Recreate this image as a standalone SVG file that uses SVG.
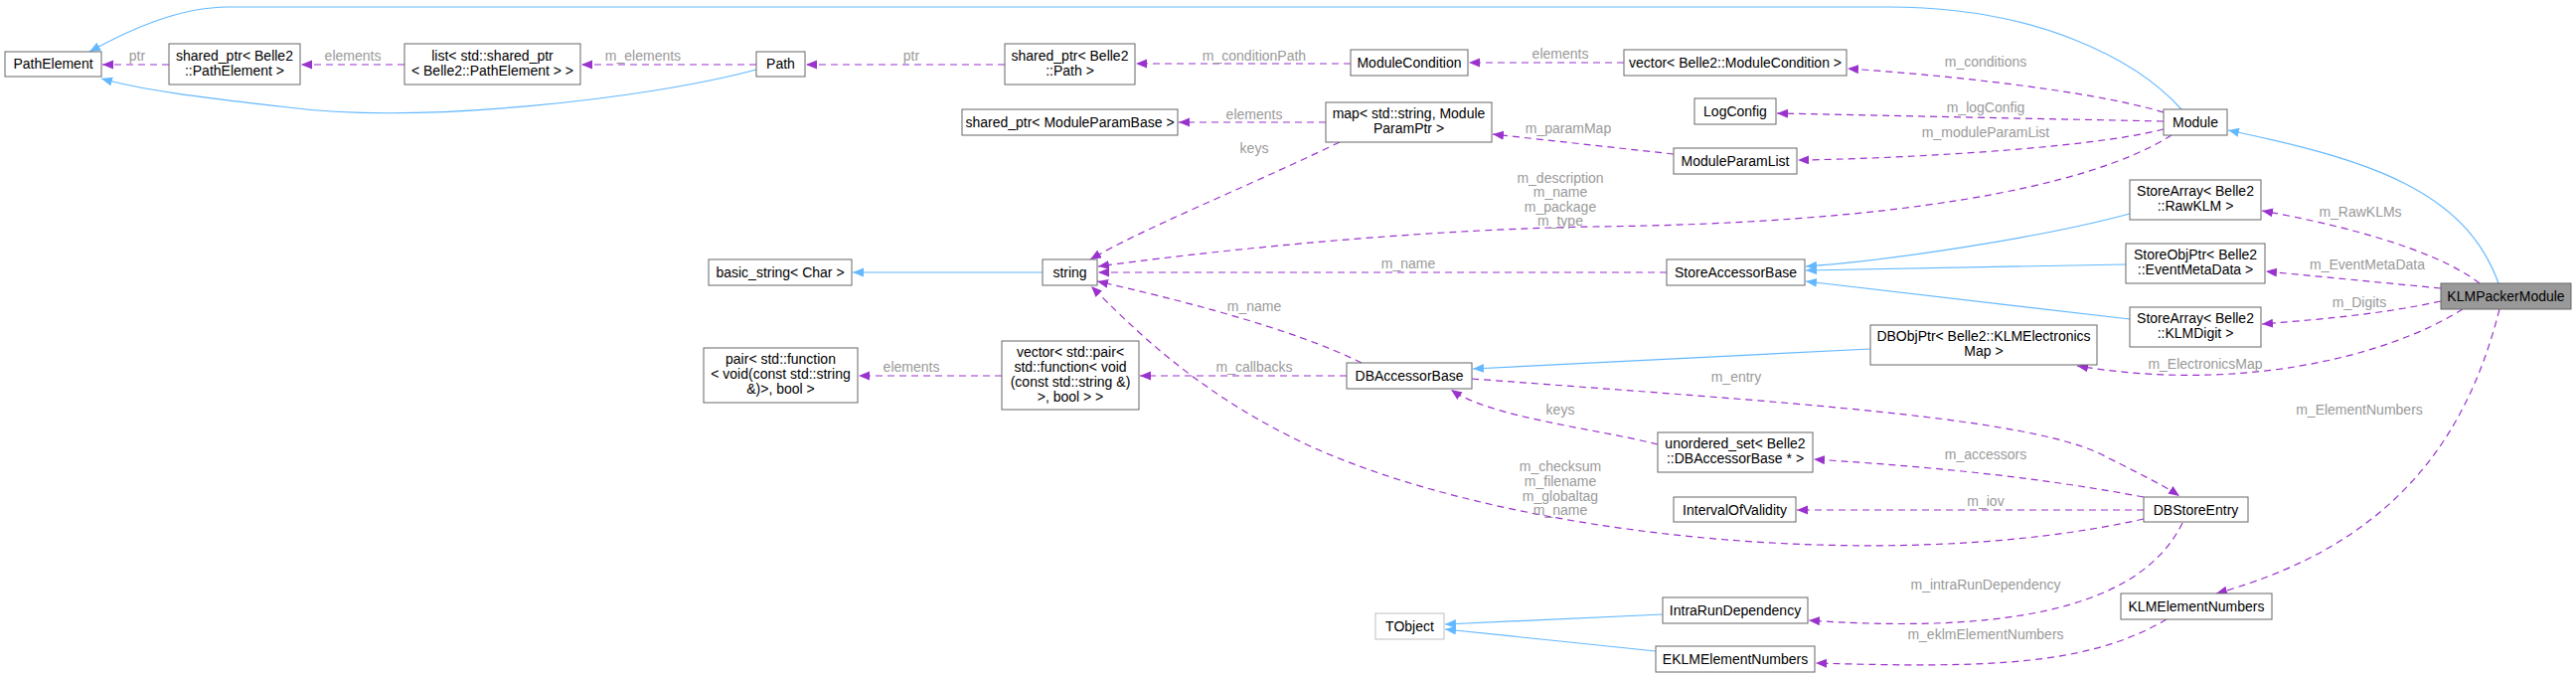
<svg xmlns="http://www.w3.org/2000/svg" width="2592" height="681" viewBox="0 0 2592 681">
<style>
.n rect{fill:#fff;stroke:#666;stroke-width:1}
.n text{font-family:"Liberation Sans",Arial,sans-serif;font-size:14px;fill:#000;text-anchor:middle}
.b{fill:none;stroke:#63b8ff;stroke-width:1.2;marker-end:url(#ab)}
.p{fill:none;stroke:#9a32cd;stroke-width:1.2;stroke-dasharray:7,5;marker-end:url(#ap)}
.l{font-family:"Liberation Sans",Arial,sans-serif;font-size:14px;fill:#9a9a9a;text-anchor:middle}
</style>
<defs>
<marker id="ab" markerUnits="userSpaceOnUse" markerWidth="12" markerHeight="10" refX="11" refY="4.5" orient="auto"><path d="M0,0 L11,4.5 L0,9 z" fill="#63b8ff"/></marker>
<marker id="ap" markerUnits="userSpaceOnUse" markerWidth="12" markerHeight="10" refX="11" refY="4.5" orient="auto"><path d="M0,0 L11,4.5 L0,9 z" fill="#9a32cd"/></marker>
</defs>
<rect width="2592" height="681" fill="#fff"/>
<g id="edges">
<path class="b" d="M761,70 C650,100 420,125 290,108 C200,98 140,90 102,79"/>
<path class="b" d="M2195,110 C2150,60 2050,7 1900,7 L230,7 C180,7 130,30 90,52"/>
<path class="b" d="M2514,285 C2480,190 2380,160 2242,131"/>
<path class="b" d="M2143,215 C2050,240 1900,262 1817,268"/>
<path class="b" d="M2139,266 L1817,272"/>
<path class="b" d="M2143,321 L1817,283"/>
<path class="b" d="M1882,351 L1482,371"/>
<path class="b" d="M1673,618 L1454,628"/>
<path class="b" d="M1666,655 L1454,633"/>
<path class="b" d="M1049,274 L858,274"/>
<path class="p" d="M170,65 L103,65"/>
<path class="p" d="M407,65 L303,65"/>
<path class="p" d="M761,65 L585,65"/>
<path class="p" d="M1011,65 L811,65"/>
<path class="p" d="M1359,64 L1143,64"/>
<path class="p" d="M1634,63 L1478,63"/>
<path class="p" d="M2177,113 C2100,90 1950,75 1859,69"/>
<path class="p" d="M2177,122 L1788,114"/>
<path class="p" d="M2177,130 C2100,150 1900,160 1809,161"/>
<path class="p" d="M1684,155 L1502,135"/>
<path class="p" d="M1334,123 L1186,123"/>
<path class="p" d="M1348,143 C1250,190 1150,230 1097,261"/>
<path class="p" d="M2185,136 C2100,190 1900,225 1600,228 C1400,232 1200,255 1105,268"/>
<path class="p" d="M1677,274 L1105,274"/>
<path class="p" d="M1370,365 C1300,330 1180,300 1104,283"/>
<path class="p" d="M1355,378 L1147,378"/>
<path class="p" d="M1008,378 L864,378"/>
<path class="p" d="M2157,522 C1900,580 1500,540 1300,440 C1200,390 1140,330 1098,288"/>
<path class="p" d="M1481,381 C1800,405 2050,420 2120,460 C2160,480 2180,490 2193,499"/>
<path class="p" d="M2157,500 C2050,480 1950,470 1825,462"/>
<path class="p" d="M2157,513 L1808,513"/>
<path class="p" d="M1668,447 C1600,430 1500,420 1460,392"/>
<path class="p" d="M2196,526 C2160,600 2050,640 1820,624"/>
<path class="p" d="M2495,285 C2450,250 2350,225 2276,212"/>
<path class="p" d="M2456,290 L2280,273"/>
<path class="p" d="M2456,303 C2400,315 2350,320 2276,326"/>
<path class="p" d="M2478,311 C2400,360 2250,395 2090,368"/>
<path class="p" d="M2515,311 C2480,450 2400,550 2230,597"/>
<path class="p" d="M2180,623 C2100,670 2000,672 1827,667"/>
<text class="l" x="138" y="61">ptr</text>
<text class="l" x="355" y="61">elements</text>
<text class="l" x="647" y="61">m_elements</text>
<text class="l" x="917" y="61">ptr</text>
<text class="l" x="1262" y="61">m_conditionPath</text>
<text class="l" x="1570" y="59">elements</text>
<text class="l" x="1998" y="67">m_conditions</text>
<text class="l" x="1998" y="113">m_logConfig</text>
<text class="l" x="1998" y="138">m_moduleParamList</text>
<text class="l" x="1578" y="134">m_paramMap</text>
<text class="l" x="1262" y="120">elements</text>
<text class="l" x="1262" y="154">keys</text>
<text class="l" x="1570" y="184">m_description</text>
<text class="l" x="1570" y="198">m_name</text>
<text class="l" x="1570" y="213">m_package</text>
<text class="l" x="1570" y="227">m_type</text>
<text class="l" x="1417" y="270">m_name</text>
<text class="l" x="1262" y="313">m_name</text>
<text class="l" x="917" y="374">elements</text>
<text class="l" x="1262" y="374">m_callbacks</text>
<text class="l" x="1570" y="417">keys</text>
<text class="l" x="1570" y="474">m_checksum</text>
<text class="l" x="1570" y="489">m_filename</text>
<text class="l" x="1570" y="504">m_globaltag</text>
<text class="l" x="1570" y="518">m_name</text>
<text class="l" x="1747" y="384">m_entry</text>
<text class="l" x="1998" y="462">m_accessors</text>
<text class="l" x="1998" y="509">m_iov</text>
<text class="l" x="1998" y="593">m_intraRunDependency</text>
<text class="l" x="1998" y="643">m_eklmElementNumbers</text>
<text class="l" x="2375" y="218">m_RawKLMs</text>
<text class="l" x="2382" y="271">m_EventMetaData</text>
<text class="l" x="2374" y="309">m_Digits</text>
<text class="l" x="2219" y="371">m_ElectronicsMap</text>
<text class="l" x="2374" y="417">m_ElementNumbers</text>
</g>
<g id="PathElement" class="n"><rect x="5" y="52" width="97" height="25"/><text x="53.5" y="69">PathElement</text></g>
<g id="SharedPtrPathElement" class="n"><rect x="170" y="44" width="132" height="41"/><text x="236" y="61">shared_ptr&lt; Belle2</text><text x="236" y="76">::PathElement &gt;</text></g>
<g id="ListSharedPtr" class="n"><rect x="407" y="44" width="177" height="41"/><text x="495.5" y="61">list&lt; std::shared_ptr</text><text x="495.5" y="76">&lt; Belle2::PathElement &gt; &gt;</text></g>
<g id="Path" class="n"><rect x="761" y="52" width="49" height="25"/><text x="785.5" y="69">Path</text></g>
<g id="SharedPtrPath" class="n"><rect x="1011" y="44" width="131" height="41"/><text x="1076.5" y="61">shared_ptr&lt; Belle2</text><text x="1076.5" y="76">::Path &gt;</text></g>
<g id="ModuleCondition" class="n"><rect x="1359" y="50" width="118" height="26"/><text x="1418" y="68">ModuleCondition</text></g>
<g id="VectorModuleCondition" class="n"><rect x="1634" y="50" width="224" height="26"/><text x="1746" y="68">vector&lt; Belle2::ModuleCondition &gt;</text></g>
<g id="LogConfig" class="n"><rect x="1705" y="99" width="82" height="26"/><text x="1746" y="117">LogConfig</text></g>
<g id="ModuleParamList" class="n"><rect x="1684" y="149" width="124" height="26"/><text x="1746" y="167">ModuleParamList</text></g>
<g id="Module" class="n"><rect x="2177" y="110" width="64" height="26"/><text x="2209" y="128">Module</text></g>
<g id="SharedPtrModuleParamBase" class="n"><rect x="968" y="110" width="217" height="26"/><text x="1076.5" y="128">shared_ptr&lt; ModuleParamBase &gt;</text></g>
<g id="MapModuleParamPtr" class="n"><rect x="1334" y="103" width="167" height="40"/><text x="1417.5" y="119">map&lt; std::string, Module</text><text x="1417.5" y="134">ParamPtr &gt;</text></g>
<g id="BasicString" class="n"><rect x="713" y="261" width="144" height="26"/><text x="785" y="279">basic_string&lt; Char &gt;</text></g>
<g id="String" class="n"><rect x="1049" y="261" width="55" height="26"/><text x="1076.5" y="279">string</text></g>
<g id="StoreAccessorBase" class="n"><rect x="1677" y="261" width="139" height="26"/><text x="1746.5" y="279">StoreAccessorBase</text></g>
<g id="StoreArrayRawKLM" class="n"><rect x="2143" y="181" width="132" height="40"/><text x="2209" y="197">StoreArray&lt; Belle2</text><text x="2209" y="212">::RawKLM &gt;</text></g>
<g id="StoreObjPtrEventMetaData" class="n"><rect x="2139" y="245" width="140" height="40"/><text x="2209" y="261">StoreObjPtr&lt; Belle2</text><text x="2209" y="276">::EventMetaData &gt;</text></g>
<g id="StoreArrayKLMDigit" class="n"><rect x="2143" y="309" width="132" height="40"/><text x="2209" y="325">StoreArray&lt; Belle2</text><text x="2209" y="340">::KLMDigit &gt;</text></g>
<g id="KLMPackerModule" class="n"><rect x="2456" y="285" width="131" height="26" style="fill:#999"/><text x="2521.5" y="303">KLMPackerModule</text></g>
<g id="DBObjPtrElectronicsMap" class="n"><rect x="1882" y="327" width="228" height="40"/><text x="1996" y="343">DBObjPtr&lt; Belle2::KLMElectronics</text><text x="1996" y="358">Map &gt;</text></g>
<g id="PairFunction" class="n"><rect x="708" y="350" width="155" height="55"/><text x="785.5" y="366">pair&lt; std::function</text><text x="785.5" y="381">&lt; void(const std::string</text><text x="785.5" y="396">&amp;)&gt;, bool &gt;</text></g>
<g id="VectorPair" class="n"><rect x="1008" y="343" width="138" height="69"/><text x="1077" y="359">vector&lt; std::pair&lt;</text><text x="1077" y="374">std::function&lt; void</text><text x="1077" y="389">(const std::string &amp;)</text><text x="1077" y="404">&gt;, bool &gt; &gt;</text></g>
<g id="DBAccessorBase" class="n"><rect x="1355" y="365" width="126" height="26"/><text x="1418" y="383">DBAccessorBase</text></g>
<g id="UnorderedSet" class="n"><rect x="1668" y="435" width="156" height="40"/><text x="1746" y="451">unordered_set&lt; Belle2</text><text x="1746" y="466">::DBAccessorBase * &gt;</text></g>
<g id="IntervalOfValidity" class="n"><rect x="1684" y="500" width="123" height="25"/><text x="1745.5" y="518">IntervalOfValidity</text></g>
<g id="DBStoreEntry" class="n"><rect x="2157" y="500" width="105" height="25"/><text x="2209.5" y="518">DBStoreEntry</text></g>
<g id="KLMElementNumbers" class="n"><rect x="2134" y="597" width="152" height="26"/><text x="2210" y="615">KLMElementNumbers</text></g>
<g id="TObject" class="n"><rect x="1384" y="617" width="69" height="26" style="stroke:#bfbfbf"/><text x="1418.5" y="635">TObject</text></g>
<g id="IntraRunDependency" class="n"><rect x="1673" y="601" width="146" height="26"/><text x="1746" y="619">IntraRunDependency</text></g>
<g id="EKLMElementNumbers" class="n"><rect x="1666" y="650" width="160" height="26"/><text x="1746" y="668">EKLMElementNumbers</text></g>
</svg>
